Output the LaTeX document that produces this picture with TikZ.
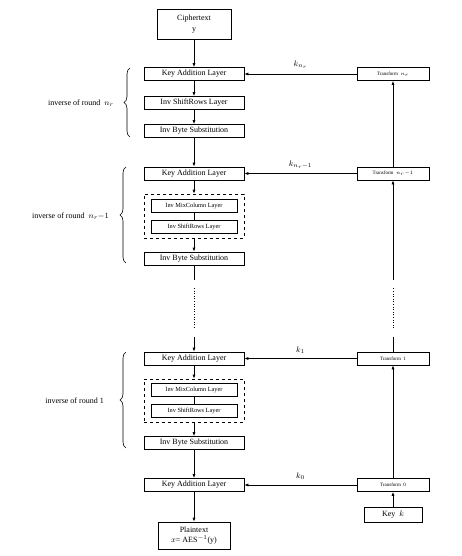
\documentclass[tikz,border=0pt]{standalone}
\usepackage{fontspec}
\setmainfont{Liberation Serif}
\usetikzlibrary{arrows.meta,decorations.pathreplacing}
\tikzset{
  mainbox/.style={draw,line width=0.7pt,minimum width=100pt,minimum height=13pt,inner sep=0pt,font=\fontsize{8}{9}\selectfont},
  innerbox/.style={draw,line width=0.7pt,minimum width=86pt,minimum height=13pt,inner sep=0pt,font=\fontsize{6.3}{7}\selectfont},
  trbox/.style={draw,line width=0.7pt,minimum width=72pt,minimum height=13pt,inner sep=0pt,font=\fontsize{5}{6}\selectfont},
  endbox/.style={draw,line width=0.7pt,inner sep=0pt,font=\fontsize{8}{10}\selectfont,align=center},
  dashbox/.style={draw,dashed,line width=0.7pt},
  conn/.style={line width=0.7pt},
  arr/.style={line width=0.7pt,-{Latex[length=4pt,width=3pt]}},
  dots/.style={line width=0.6pt,dotted},
  bracestyle/.style={line width=0.6pt,decorate,decoration={brace,amplitude=6pt}},
  lab/.style={font=\fontsize{8}{9}\selectfont,inner sep=0pt},
  klab/.style={font=\fontsize{8}{9}\selectfont,inner sep=0pt}
}
\begin{document}
\begin{tikzpicture}[x=1pt,y=-1pt]
\useasboundingbox (0,0) rectangle (461,556);
% main column
\node[endbox,minimum width=74pt,minimum height=30pt] (cipher) at (194,24) {Ciphertext\\[1pt] y};
\node[mainbox] (ka1) at (194,74) {Key Addition Layer};
\node[mainbox] (sr1) at (194,103) {Inv ShiftRows Layer};
\node[mainbox] (bs1) at (194,131) {Inv Byte Substitution};

\node[mainbox] (ka2) at (194,173.5) {Key Addition Layer};
\node[dashbox,minimum width=100pt,minimum height=44pt,inner sep=0pt] (db2) at (194,216) {};
\node[innerbox] (mc2) at (194,205.5) {Inv MixColumn Layer};
\node[innerbox] (sr2) at (194,227) {Inv ShiftRows Layer};
\node[mainbox] (bs2) at (194,258.5) {Inv Byte Substitution};

\coordinate (m1) at (194,280);
\coordinate (m2) at (194,288);
\coordinate (m3) at (194,328);
\coordinate (m4) at (194,337);

\node[mainbox] (ka3) at (194,358.5) {Key Addition Layer};
\node[dashbox,minimum width=100pt,minimum height=43pt,inner sep=0pt] (db3) at (194,400.5) {};
\node[innerbox] (mc3) at (194,390) {Inv MixColumn Layer};
\node[innerbox] (sr3) at (194,411) {Inv ShiftRows Layer};
\node[mainbox] (bs3) at (194,443) {Inv Byte Substitution};

\node[mainbox] (ka4) at (194,485) {Key Addition Layer};
\node[endbox,minimum width=72pt,minimum height=27pt] (plain) at (194,535.5) {Plaintext\\ $x$= AES$^{-1}$(y)};

% key column
\node[trbox] (tr4) at (393,74) {Transform~~$n_r$};
\node[trbox] (tr3) at (393,173.5) {Transform~~$n_r{-}1$};
\node[trbox] (tr2) at (393,358.5) {Transform~~1};
\node[trbox] (tr1) at (393,485) {Transform~~0};
\node[endbox,minimum width=58pt,minimum height=15pt] (key) at (393,514.5) {Key~~$k$};

\coordinate (r1) at (393,280);
\coordinate (r2) at (393,288);
\coordinate (r3) at (393,328);
\coordinate (r4) at (393,337);

% main connectors
\draw[arr] (cipher) -- (ka1);
\draw[arr] (ka1) -- (sr1);
\draw[arr] (sr1) -- (bs1);
\draw[arr] (bs1) -- (ka2);
\draw[arr] (ka2) -- (db2);
\draw[conn] (mc2) -- (sr2);
\draw[arr] (db2) -- (bs2);
\draw[conn] (bs2) -- (m1);
\draw[dots] (m2) -- (m3);
\draw[arr] (m4) -- (ka3);
\draw[arr] (ka3) -- (db3);
\draw[conn] (mc3) -- (sr3);
\draw[arr] (db3) -- (bs3);
\draw[arr] (bs3) -- (ka4);
\draw[arr] (ka4) -- (plain);

% key connectors
\draw[arr] (key) -- (tr1);
\draw[arr] (tr1) -- (tr2);
\draw[conn] (tr2) -- (r4);
\draw[dots] (r3) -- (r2);
\draw[arr] (r1) -- (tr3);
\draw[arr] (tr3) -- (tr4);

\draw[arr] (tr4) -- node[klab,above=5pt] {$k_{n_r}$} (ka1);
\draw[arr] (tr3) -- node[klab,above=5pt] {$k_{n_r-1}$} (ka2);
\draw[arr] (tr2) -- node[klab,above=5pt] {$k_1$} (ka3);
\draw[arr] (tr1) -- node[klab,above=5pt] {$k_0$} (ka4);

% braces
\coordinate (b1a) at (130,137);
\coordinate (b1b) at (130,68);
\coordinate (b2a) at (126,263);
\coordinate (b2b) at (126,167);
\coordinate (b3a) at (126,448);
\coordinate (b3b) at (126,352);
\draw[bracestyle] (b1a) -- (b1b);
\draw[bracestyle] (b2a) -- (b2b);
\draw[bracestyle] (b3a) -- (b3b);
\node[lab,anchor=east] (l1) at (114,103) {inverse of round ~$n_r$};
\node[lab,anchor=east] (l2) at (109,216) {inverse of round ~$n_r{-}1$};
\node[lab,anchor=east] (l3) at (104,401) {inverse of round 1};
\end{tikzpicture}
\end{document}
